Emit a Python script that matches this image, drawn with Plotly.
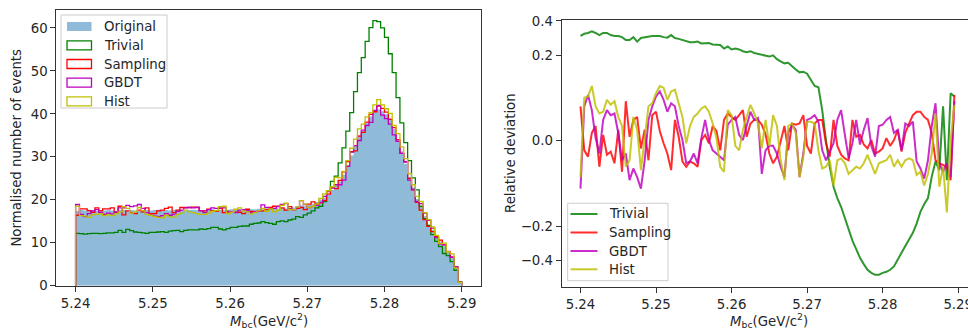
import numpy as np
import plotly.graph_objects as go

# ---------------- data ----------------
bin_lo, bin_hi, n_bins = 5.24, 5.29, 100
tick_vals_x = [5.24, 5.25, 5.26, 5.27, 5.28, 5.29]
tick_text_x = ["5.24", "5.25", "5.26", "5.27", "5.28", "5.29"]
tick_vals_left_y = [0, 10, 20, 30, 40, 50, 60]
tick_vals_dev = [-0.4, -0.2, 0.0, 0.2, 0.4]
tick_text_dev = ["\u22120.4", "\u22120.2", "0.0", "0.2", "0.4"]
left_labels = ["Original", "Trivial", "Sampling", "GBDT", "Hist"]
right_labels = ["Trivial", "Sampling", "GBDT", "Hist"]

original = [17.4,17.6,17.5,17.7,17.5,17.4,17.6,17.5,17.6,17.5,
            17.4,17.6,17.7,17.5,17.6,17.5,17.4,17.5,17.6,17.5,
            17.6,17.7,17.5,17.6,17.5,17.6,17.7,17.6,17.5,17.6,
            17.7,17.6,17.5,17.6,17.7,17.8,17.6,17.7,17.6,17.7,
            17.8,17.7,17.8,17.7,17.9,17.8,17.8,17.9,17.8,17.9,
            17.8,17.9,18.0,18.1,18.0,18.1,18.2,18.5,18.7,18.5,
            18.8,19.1,19.5,20.0,20.5,21.2,22.3,23.4,24.3,25.9,
            28.1,30.3,32.5,35.0,36.0,37.9,39.4,40.5,41.0,40.6,
            39.9,38.9,36.5,34.0,31.3,28.4,25.3,22.9,20.2,18.5,
            16.2,14.3,13.0,11.5,10.3,9.2,7.6,6.4,4.1,0.9]

trivial = [12.2,12.1,12.0,12.1,12.2,12.2,12.1,12.2,12.3,12.3,
           12.4,12.9,12.4,13.1,12.8,12.5,12.4,12.3,12.2,12.4,
           12.4,12.5,12.6,12.4,12.7,12.8,12.9,12.6,12.9,13.0,
           13.0,13.0,13.2,13.1,13.3,13.6,13.6,13.2,13.0,13.3,
           13.6,13.6,13.8,13.9,13.9,14.3,14.5,14.6,14.9,14.7,
           14.5,14.3,14.9,15.1,14.9,15.3,15.5,16.1,15.9,16.5,
           16.9,17.4,18.1,18.5,19.6,22.0,24.3,25.5,28.6,32.1,
           36.0,40.3,45.2,49.6,53.1,56.9,60.1,61.7,61.5,60.0,
           57.8,54.0,49.6,43.8,37.9,33.3,29.1,25.1,22.3,18.5,
           15.6,14.0,11.9,10.3,9.1,7.5,7.0,5.6,3.6,0.9]

sampling = [16.4,17.9,17.9,17.5,17.1,18.1,17.4,17.9,17.9,18.1,
            17.1,18.5,16.5,17.4,17.0,16.8,17.6,17.2,18.1,16.8,
            16.8,17.4,17.6,18.0,18.3,17.0,17.6,18.2,18.2,18.2,
            18.3,18.3,17.5,17.4,17.8,17.4,17.3,18.0,17.0,16.9,
            17.1,17.1,17.1,16.8,17.8,17.3,17.2,17.3,17.4,17.7,
            18.2,18.5,18.5,18.1,17.6,18.4,17.7,18.0,18.2,17.7,
            19.0,19.5,19.0,19.3,19.8,21.3,22.9,22.6,24.5,26.5,
            28.9,31.2,31.4,34.8,35.7,38.1,39.9,40.5,41.8,41.3,
            40.4,38.7,36.8,34.0,30.8,28.9,25.0,22.3,19.4,17.6,
            15.4,13.8,12.6,11.4,10.6,9.5,7.9,6.7,4.4,0.8]

gbdt = [18.9,16.6,16.1,16.8,17.4,17.7,17.0,16.6,16.9,16.7,
        17.2,18.1,18.1,18.7,18.4,18.6,18.9,18.0,17.0,16.5,
        16.2,16.1,16.3,16.8,16.4,16.6,17.3,17.6,18.1,18.2,
        18.1,18.2,17.4,17.0,17.7,18.1,18.0,18.1,18.1,17.3,
        17.2,17.0,17.6,17.7,17.5,17.0,17.2,17.3,18.8,18.2,
        17.9,18.0,18.4,18.9,19.1,17.9,17.7,18.2,19.8,18.9,
        18.2,18.4,18.7,19.4,20.8,21.9,22.7,23.5,23.5,24.6,
        27.8,31.1,32.6,33.8,36.2,37.3,38.0,40.8,42.0,39.7,
        38.9,37.6,35.1,33.6,30.8,28.8,24.6,22.4,19.6,19.1,
        16.9,15.2,13.4,11.2,9.7,9.5,8.0,6.6,4.4,0.8]

hist = [18.5,16.3,16.2,15.9,16.5,16.6,16.8,16.3,16.5,16.3,
        16.7,17.2,18.4,18.0,16.9,17.2,18.2,17.5,16.6,16.4,
        16.1,15.9,15.8,16.4,16.0,16.0,16.6,16.9,17.6,17.2,
        17.0,16.8,16.6,16.6,16.9,17.3,17.5,18.4,18.5,16.8,
        17.1,17.8,18.1,17.4,17.2,16.7,17.0,17.4,18.0,17.3,
        17.9,17.2,17.6,18.7,19.2,17.7,17.7,18.3,19.8,19.0,
        18.2,18.5,19.0,20.3,21.4,22.1,23.0,25.2,25.1,26.6,
        29.1,32.0,34.1,36.5,37.6,39.3,40.3,42.1,43.3,42.1,
        41.2,40.1,37.3,35.4,32.3,29.6,26.1,23.5,20.8,19.6,
        17.0,15.4,13.7,11.7,9.8,9.9,7.9,7.4,4.1,0.8]

dev_trivial = [0.297,0.31,0.315,0.325,0.315,0.302,0.315,0.315,0.302,0.297,
               0.297,0.29,0.274,0.274,0.29,0.265,0.285,0.29,0.293,0.297,
               0.297,0.297,0.29,0.287,0.302,0.285,0.28,0.274,0.27,0.262,
               0.262,0.265,0.255,0.255,0.257,0.25,0.247,0.247,0.23,0.24,
               0.226,0.23,0.226,0.218,0.214,0.218,0.21,0.206,0.2,0.198,
               0.195,0.2,0.185,0.176,0.169,0.171,0.158,0.148,0.139,0.141,
               0.135,0.117,0.101,0.098,0.05,0.0,-0.042,-0.081,-0.108,-0.132,
               -0.17,-0.21,-0.27,-0.32,-0.38,-0.43,-0.48,-0.51,-0.53,-0.53,
               -0.51,-0.5,-0.48,-0.45,-0.39,-0.34,-0.3,-0.263,-0.23,-0.19,
               -0.148,-0.125,-0.108,-0.06,-0.033,-0.048,0.057,-0.067,0.084,0.077]

dev_sampling = [0.057,-0.015,-0.025,0.012,0.023,-0.042,0.009,-0.022,-0.017,-0.036,
                0.017,-0.051,0.067,0.006,0.033,0.038,-0.012,0.017,-0.031,0.041,
                0.047,0.015,-0.004,-0.02,-0.048,0.033,0.006,-0.033,-0.042,-0.033,
                -0.036,-0.042,0.001,0.009,-0.004,0.023,0.015,-0.015,0.033,0.044,
                0.038,0.033,0.041,0.05,0.006,0.027,0.033,0.033,0.025,0.01,
                -0.02,-0.036,-0.025,0.001,0.023,-0.015,0.027,0.025,0.027,0.041,
                -0.008,-0.02,0.027,0.033,0.033,-0.004,-0.025,0.033,-0.008,-0.022,
                -0.028,-0.031,0.033,0.006,0.009,-0.006,-0.012,0.001,-0.02,-0.017,
                -0.012,0.004,-0.008,0.001,0.017,-0.017,0.012,0.027,0.041,0.047,
                0.047,0.038,0.033,0.012,-0.031,-0.036,-0.039,-0.042,-0.067,0.08]

dev_gbdt = [-0.085,0.057,0.08,0.05,0.004,-0.02,0.033,0.05,0.041,0.044,
            0.012,-0.031,-0.02,-0.067,-0.045,-0.061,-0.085,-0.031,0.033,0.057,
            0.077,0.088,0.07,0.047,0.063,0.057,0.023,0.001,-0.036,-0.033,
            -0.02,-0.036,0.004,0.033,0.001,-0.015,-0.02,-0.025,-0.031,0.025,
            0.033,0.038,0.009,0.001,0.023,0.047,0.033,0.036,-0.055,-0.015,
            -0.008,-0.008,-0.02,-0.042,-0.061,0.012,0.025,0.017,-0.061,-0.02,
            0.033,0.036,0.041,0.03,-0.015,-0.031,-0.017,-0.004,0.033,0.05,
            0.009,-0.028,-0.004,0.033,-0.006,0.017,0.036,-0.008,-0.025,0.023,
            0.025,0.033,0.038,0.012,0.017,-0.015,0.027,0.023,0.03,-0.033,
            -0.045,-0.064,-0.031,0.023,0.063,-0.036,-0.051,-0.036,-0.061,0.067]

dev_hist = [-0.061,0.074,0.077,0.101,0.057,0.044,0.047,0.07,0.06,0.067,
            0.038,0.023,-0.042,-0.031,0.038,0.017,-0.048,0.001,0.057,0.063,
            0.084,0.101,0.097,0.07,0.088,0.092,0.063,0.038,-0.004,0.023,
            0.038,0.044,0.053,0.057,0.047,0.027,0.004,-0.042,-0.051,0.05,
            0.041,-0.008,-0.015,0.017,0.038,0.06,0.044,0.027,-0.012,0.033,
            -0.008,0.041,0.023,-0.031,-0.067,0.023,0.027,0.012,-0.061,-0.025,
            0.03,0.03,0.027,-0.015,-0.045,-0.042,-0.031,-0.078,-0.031,-0.028,
            -0.036,-0.055,-0.048,-0.042,-0.045,-0.036,-0.022,-0.039,-0.055,-0.036,
            -0.033,-0.031,-0.022,-0.042,-0.031,-0.042,-0.031,-0.028,-0.031,-0.057,
            -0.051,-0.078,-0.055,-0.02,0.044,-0.081,-0.042,-0.15,0.001,0.06]

# ---------------- styling ----------------
FONT = "DejaVu Sans"
W, H = 968, 329
C_ORIG = "rgba(31,119,180,0.5)"
C_TRIV, C_SAMP, C_GBDT, C_HIST = "#008000", "#ff0000", "#bf00bf", "#bfbf00"
left_colors = [C_ORIG, C_TRIV, C_SAMP, C_GBDT, C_HIST]
right_colors = [C_TRIV, C_SAMP, C_GBDT, C_HIST]
LIN_W = 0.08  # asinh-like scale width for relative deviation axis


def dev_scale(v):
    return np.arcsinh(np.asarray(v, dtype=float) / LIN_W)


edges = np.linspace(bin_lo, bin_hi, n_bins + 1)


def step_xy(vals):
    vals = list(vals)
    xs = [edges[0]] + list(edges[:-1]) + [edges[-1], edges[-1]]
    ys = [0.0] + vals + [vals[-1], 0.0]
    return xs, ys


fig = go.Figure()

# Left panel: Original filled histogram
xs, ys = step_xy(original)
fig.add_trace(go.Scatter(x=xs, y=ys, mode="lines", line=dict(width=0, shape="hv"),
                         fill="tozeroy", fillcolor=C_ORIG, showlegend=False,
                         hoverinfo="skip", xaxis="x", yaxis="y"))
for vals, col in [(trivial, C_TRIV), (sampling, C_SAMP), (gbdt, C_GBDT), (hist, C_HIST)]:
    xs, ys = step_xy(vals)
    fig.add_trace(go.Scatter(x=xs, y=ys, mode="lines",
                             line=dict(color=col, width=1.3, shape="hv"),
                             showlegend=False, xaxis="x", yaxis="y"))

# Right panel: relative deviation lines
xr = edges[:-1]
for vals, col in [(dev_trivial, C_TRIV), (dev_sampling, C_SAMP), (dev_gbdt, C_GBDT), (dev_hist, C_HIST)]:
    fig.add_trace(go.Scatter(x=xr, y=dev_scale(vals), mode="lines",
                             line=dict(color=col, width=2), opacity=0.82,
                             showlegend=False, xaxis="x2", yaxis="y2"))

AX_COL = "#333333"
tickfont = dict(family=FONT, size=13.3, color="#262626")
common = dict(showgrid=False, zeroline=False, showline=True, linecolor=AX_COL, linewidth=1,
              ticks="outside", ticklen=5, tickwidth=1, tickcolor=AX_COL, tickfont=tickfont,
              automargin=False)

fig.update_layout(
    width=W, height=H, margin=dict(l=0, r=0, t=0, b=0, pad=0),
    paper_bgcolor="white", plot_bgcolor="white", showlegend=False,
    xaxis=dict(domain=[56.3 / W, 481 / W], range=[5.2375, 5.2925], mirror=True,
               tickvals=tick_vals_x, ticktext=tick_text_x, anchor="y", **common),
    yaxis=dict(domain=[(H - 285.7) / H, (H - 9.5) / H], range=[0, 64.3], mirror=True,
               tickvals=tick_vals_left_y, anchor="x", **common),
    xaxis2=dict(domain=[561.6 / W, 1.0], range=[5.2375, 5.2913], mirror=True,
                tickvals=tick_vals_x, ticktext=tick_text_x, anchor="y2",
                ticklabeloverflow="allow", **common),
    yaxis2=dict(domain=[(H - 286.7) / H, (H - 20) / H], range=[-2.819, 2.330], mirror=False,
                tickvals=list(dev_scale(tick_vals_dev)), ticktext=tick_text_dev,
                anchor="x2", **common),
)

annfont = dict(family=FONT, size=13.3, color="#262626")
xtitle = "<i>M</i><sub>bc</sub>(GeV/c<sup>2</sup>)"
anns = [
    dict(x=268.6 / W, y=(H - 320) / H, text=xtitle),
    dict(x=769 / W, y=(H - 320) / H, text=xtitle),
    dict(x=17 / W, y=(H - 147.6) / H, text="Normalised number of events", textangle=-90),
    dict(x=510 / W, y=(H - 153) / H, text="Relative deviation", textangle=-90),
]
shapes = []

# Left legend
shapes.append(dict(type="rect", xref="paper", yref="paper", x0=61 / W, x1=167 / W,
                   y0=(H - 108) / H, y1=(H - 15) / H, fillcolor="rgba(255,255,255,0.8)",
                   line=dict(color="#cccccc", width=1), layer="above"))
left_y = [26.5, 45.3, 64, 82.7, 101.4]
for lab, col, yc in zip(left_labels, left_colors, left_y):
    if lab == "Original":
        shapes.append(dict(type="rect", xref="paper", yref="paper", x0=67 / W, x1=91.5 / W,
                           y0=(H - yc - 4.5) / H, y1=(H - yc + 4.5) / H,
                           fillcolor=col, line=dict(width=0), layer="above"))
    else:
        shapes.append(dict(type="rect", xref="paper", yref="paper", x0=67 / W, x1=91.5 / W,
                           y0=(H - yc - 4.5) / H, y1=(H - yc + 4.5) / H,
                           fillcolor="rgba(0,0,0,0)", line=dict(color=col, width=1.3), layer="above"))
    anns.append(dict(x=101.5 / W, y=(H - yc) / H, text=lab, xanchor="left"))

# Right legend
shapes.append(dict(type="rect", xref="paper", yref="paper", x0=567.7 / W, x1=668 / W,
                   y0=(H - 280.7) / H, y1=(H - 203.3) / H, fillcolor="rgba(255,255,255,0.8)",
                   line=dict(color="#cccccc", width=1), layer="above"))
right_y = [214, 232.5, 251, 269.3]
for lab, col, yc in zip(right_labels, right_colors, right_y):
    shapes.append(dict(type="line", xref="paper", yref="paper", x0=570.5 / W, x1=597.5 / W,
                       y0=(H - yc) / H, y1=(H - yc) / H, opacity=0.82,
                       line=dict(color=col, width=2), layer="above"))
    anns.append(dict(x=606.5 / W, y=(H - yc) / H, text=lab, xanchor="left"))

for a in anns:
    a.setdefault("xanchor", "center")
    a.update(xref="paper", yref="paper", yanchor="middle", showarrow=False, font=annfont)

fig.update_layout(annotations=anns, shapes=shapes)
fig.write_html("out.html", config={"displayModeBar": False},
               post_script="document.body.style.margin='0px';document.body.style.padding='0px';")
